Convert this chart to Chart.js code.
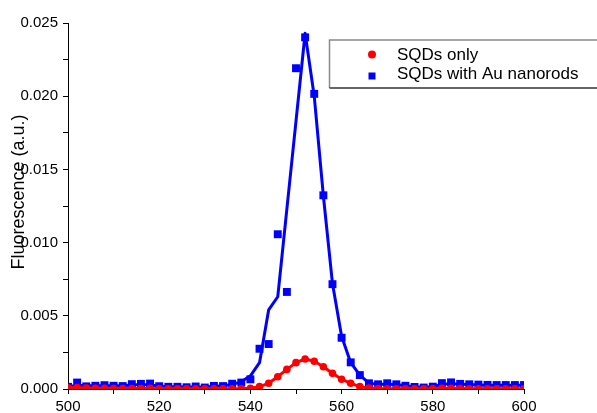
<!DOCTYPE html>
<html>
<head>
<meta charset="utf-8">
<script src="https://cdn.jsdelivr.net/npm/chart.js@4.4.0/dist/chart.umd.min.js"></script>
<style>
  body { margin: 0; background: #fff; }
  #wrap { position: relative; width: 597px; height: 413px; }
</style>
</head>
<body>
<div id="wrap"><canvas id="fluoChart"></canvas></div>
<script>
// emission wavelength (nm)
var wavelengths = [500, 502, 504, 506, 508, 510, 512, 514, 516, 518,
                   520, 522, 524, 526, 528, 530, 532, 534, 536, 538,
                   540, 542, 544, 546, 548, 550, 552, 554, 556, 558,
                   560, 562, 564, 566, 568, 570, 572, 574, 576, 578,
                   580, 582, 584, 586, 588, 590, 592, 594, 596, 598, 600];

// SQDs alone
var sqdsOnly = [0.00008, 0.00010, 0.00007, 0.00005, 0.00004, 0.00003, 0.00003, 0.00003, 0.00003, 0.00004,
                0.00002, 0.00001, 0.00001, 0.00001, 0.00001, 0.00001, 0.00001, 0.00001, 0.00001, 0.00001,
                0.00005, 0.00016, 0.00039, 0.00084, 0.00134, 0.00180, 0.00205, 0.00190, 0.00152, 0.00107,
                0.00067, 0.00039, 0.00016, 0.00006, 0.00003, 0.00002, 0.00001, 0.00001, 0.00001, 0.00001,
                0.00002, 0.00005, 0.00005, 0.00003, 0.00002, 0.00001, 0.00001, 0.00001, 0.00001, 0.00001, 0.00001];

// SQDs with Au nanorods, measured points
var sqdsAuPoints = [0.00015, 0.00044, 0.00018, 0.00022, 0.00026, 0.00022, 0.00020, 0.00033, 0.00035, 0.00037,
                    0.00019, 0.00015, 0.00015, 0.00012, 0.00017, 0.00010, 0.00021, 0.00020, 0.00036, 0.00044,
                    0.00066, 0.00275, 0.00307, 0.01057, 0.00663, 0.02191, 0.02402, 0.02016, 0.01323, 0.00716,
                    0.00350, 0.00182, 0.00095, 0.00039, 0.00032, 0.00039, 0.00032, 0.00022, 0.00014, 0.00010,
                    0.00016, 0.00040, 0.00045, 0.00035, 0.00032, 0.00030, 0.00028, 0.00027, 0.00027, 0.00027, 0.00027];

// SQDs with Au nanorods, smoothed curve
var sqdsAuCurve = [0.00015, 0.00025, 0.00022, 0.00022, 0.00023, 0.00022, 0.00023, 0.00028, 0.00030, 0.00028,
                   0.00020, 0.00016, 0.00015, 0.00014, 0.00014, 0.00014, 0.00018, 0.00022, 0.00030, 0.00050,
                   0.00090, 0.00180, 0.00540, 0.00630, 0.01230, 0.01830, 0.02430, 0.02000, 0.01320, 0.00720,
                   0.00360, 0.00180, 0.00095, 0.00040, 0.00033, 0.00033, 0.00030, 0.00022, 0.00016, 0.00012,
                   0.00016, 0.00032, 0.00036, 0.00033, 0.00030, 0.00028, 0.00026, 0.00026, 0.00026, 0.00026, 0.00026];

var seriesNames = ['SQDs only', 'SQDs with Au nanorods'];
var yTitle = 'Fluorescence (a.u.)';

var FONT = "'Liberation Sans', Arial, sans-serif";

function pairs(ys) {
  return wavelengths.map(function (x, i) { return { x: x, y: ys[i] }; });
}

// box legend in the upper right, frame runs off the canvas edge
var boxLegend = {
  id: 'boxLegend',
  afterDraw: function (chart) {
    var ctx = chart.ctx;
    ctx.save();
    ctx.fillStyle = '#fff';
    ctx.fillRect(330, 40, 280, 48);
    ctx.lineWidth = 1.5;
    ctx.strokeStyle = '#8a8a8a';
    ctx.beginPath();
    ctx.moveTo(600, 40); ctx.lineTo(329.5, 40); ctx.lineTo(329.5, 88);
    ctx.stroke();
    ctx.strokeStyle = '#333';
    ctx.beginPath();
    ctx.moveTo(329.5, 88); ctx.lineTo(600, 88);
    ctx.stroke();

    ctx.fillStyle = '#ff0000';
    ctx.beginPath();
    ctx.arc(372, 54.5, 4, 0, Math.PI * 2);
    ctx.fill();
    ctx.fillStyle = '#0000ff';
    ctx.fillRect(368.5, 72.5, 7, 7);

    ctx.fillStyle = '#000';
    ctx.font = '17px ' + FONT;
    ctx.textBaseline = 'middle';
    ctx.textAlign = 'left';
    ctx.fillText(seriesNames[0], 397, 55);
    ctx.fillText(seriesNames[1], 397, 74);

    // y axis title
    ctx.translate(19, 192);
    ctx.rotate(-Math.PI / 2);
    ctx.textAlign = 'center';
    ctx.font = '18px ' + FONT;
    ctx.fillText(yTitle, 0, 0);
    ctx.restore();
  }
};

var ctx = document.getElementById('fluoChart').getContext('2d');
var chart = new Chart(ctx, {
  type: 'scatter',
  data: {
    datasets: [{
      label: seriesNames[0],
      data: pairs(sqdsOnly),
      showLine: true,
      borderColor: '#ff0000',
      backgroundColor: '#ff0000',
      borderWidth: 3,
      borderJoinStyle: 'round',
      pointStyle: 'circle',
      pointRadius: 3.8,
      pointBorderWidth: 0,
      clip: 0
    }, {
      label: seriesNames[1],
      data: pairs(sqdsAuPoints),
      showLine: false,
      borderColor: '#0000ff',
      backgroundColor: '#0000ff',
      pointStyle: 'rect',
      pointRadius: 5.6,
      pointBorderWidth: 0,
      clip: 0
    }, {
      label: seriesNames[1] + ' (fit)',
      data: pairs(sqdsAuCurve),
      showLine: true,
      borderColor: '#0000ff',
      borderWidth: 3,
      borderJoinStyle: 'round',
      pointRadius: 0,
      clip: 0
    }]
  },
  options: {
    responsive: true,
    maintainAspectRatio: false,
    animation: false,
    layout: { padding: { top: 23, right: 73, left: 0, bottom: 0 } },
    plugins: {
      legend: { display: false },
      tooltip: { enabled: false }
    },
    scales: {
      x: {
        type: 'linear',
        min: 500,
        max: 600,
        afterFit: function (scale) { scale.height = 24; },
        border: { display: true, color: '#000', width: 1 },
        grid: { drawOnChartArea: false, drawTicks: true, tickLength: 5, tickColor: '#000' },
        ticks: {
          stepSize: 10,
          padding: 4,
          color: '#000',
          font: { family: FONT, size: 15 },
          maxRotation: 0,
          autoSkip: false,
          callback: function (v) { return v % 20 === 0 ? v : ''; }
        }
      },
      y: {
        min: 0,
        max: 0.025,
        afterFit: function (scale) { scale.width = 68; },
        border: { display: true, color: '#000', width: 1 },
        grid: { drawOnChartArea: false, drawTicks: true, tickLength: 5, tickColor: '#000' },
        ticks: {
          stepSize: 0.0025,
          padding: 5,
          color: '#000',
          font: { family: FONT, size: 15 },
          autoSkip: false,
          callback: function (v) {
            return Math.round(v / 0.0025) % 2 === 0 ? v.toFixed(3) : '';
          }
        }
      }
    }
  },
  plugins: [boxLegend]
});
</script>
</body>
</html>
